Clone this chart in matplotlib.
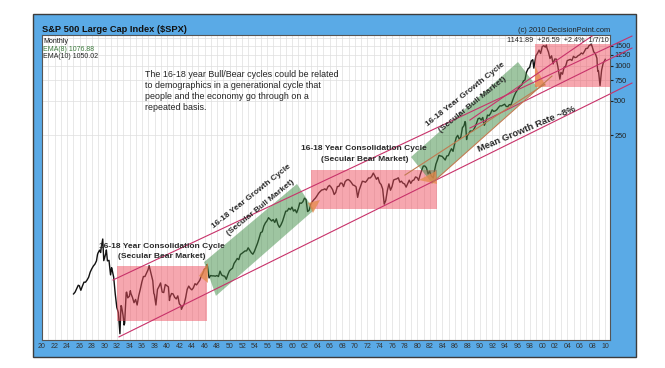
import matplotlib.pyplot as plt
import matplotlib.patches as mpatches
import numpy as np

plt.rcParams['font.family'] = ['Liberation Sans', 'DejaVu Sans']

months = [
    "1925-01", "1925-04", "1925-07", "1925-10", "1925-12",
    "1926-03", "1926-06", "1926-09", "1926-12",
    "1927-03", "1927-06", "1927-09", "1927-12",
    "1928-03", "1928-06", "1928-09", "1928-11", "1928-12",
    "1929-03", "1929-05", "1929-06", "1929-08", "1929-09", "1929-11", "1929-12",
    "1930-03", "1930-04", "1930-06", "1930-09", "1930-12",
    "1931-02", "1931-03", "1931-06", "1931-09", "1931-12",
    "1932-03", "1932-05", "1932-06", "1932-08", "1932-09", "1932-12",
    "1933-02", "1933-03", "1933-06", "1933-07", "1933-09", "1933-12",
    "1934-02", "1934-03", "1934-06", "1934-09", "1934-12",
    "1935-03", "1935-06", "1935-09", "1935-12",
    "1936-03", "1936-06", "1936-09", "1936-12",
    "1937-02", "1937-06", "1937-09", "1937-11", "1937-12",
    "1938-03", "1938-06", "1938-09", "1938-12",
    "1939-03", "1939-06", "1939-09", "1939-12",
    "1940-03", "1940-05", "1940-06", "1940-09", "1940-12",
    "1941-03", "1941-06", "1941-09", "1941-12",
    "1942-03", "1942-04", "1942-06", "1942-09", "1942-12",
    "1943-03", "1943-06", "1943-09", "1943-12",
    "1944-03", "1944-06", "1944-09", "1944-12",
    "1945-03", "1945-06", "1945-09", "1945-12",
    "1946-03", "1946-05", "1946-06", "1946-09", "1946-12",
    "1947-03", "1947-06", "1947-09", "1947-12",
    "1948-03", "1948-06", "1948-09", "1948-12",
    "1949-03", "1949-06", "1949-09", "1949-12",
    "1950-03", "1950-06", "1950-09", "1950-12",
    "1951-03", "1951-06", "1951-09", "1951-12",
    "1952-03", "1952-06", "1952-09", "1952-12",
    "1953-03", "1953-06", "1953-09", "1953-12",
    "1954-03", "1954-06", "1954-09", "1954-12",
    "1955-03", "1955-06", "1955-09", "1955-12",
    "1956-03", "1956-06", "1956-09", "1956-12",
    "1957-03", "1957-06", "1957-09", "1957-12",
    "1958-03", "1958-06", "1958-09", "1958-12",
    "1959-03", "1959-06", "1959-09", "1959-12",
    "1960-03", "1960-06", "1960-09", "1960-12",
    "1961-03", "1961-06", "1961-09", "1961-12",
    "1962-03", "1962-06", "1962-09", "1962-12",
    "1963-03", "1963-06", "1963-09", "1963-12",
    "1964-03", "1964-06", "1964-09", "1964-12",
    "1965-03", "1965-06", "1965-09", "1965-12",
    "1966-03", "1966-06", "1966-09", "1966-12",
    "1967-03", "1967-06", "1967-09", "1967-12",
    "1968-03", "1968-06", "1968-09", "1968-12",
    "1969-03", "1969-06", "1969-09", "1969-12",
    "1970-03", "1970-06", "1970-09", "1970-12",
    "1971-03", "1971-06", "1971-09", "1971-12",
    "1972-03", "1972-06", "1972-09", "1972-12",
    "1973-03", "1973-06", "1973-09", "1973-12",
    "1974-03", "1974-06", "1974-09", "1974-12",
    "1975-03", "1975-06", "1975-09", "1975-12",
    "1976-03", "1976-06", "1976-09", "1976-12",
    "1977-03", "1977-06", "1977-09", "1977-12",
    "1978-03", "1978-06", "1978-09", "1978-12",
    "1979-03", "1979-06", "1979-09", "1979-12",
    "1980-03", "1980-06", "1980-09", "1980-12",
    "1981-03", "1981-06", "1981-09", "1981-12",
    "1982-03", "1982-07", "1982-09", "1982-12",
    "1983-03", "1983-06", "1983-09", "1983-12",
    "1984-03", "1984-06", "1984-09", "1984-12",
    "1985-03", "1985-06", "1985-09", "1985-12",
    "1986-03", "1986-06", "1986-09", "1986-12",
    "1987-03", "1987-06", "1987-08", "1987-09", "1987-11", "1987-12",
    "1988-03", "1988-06", "1988-09", "1988-12",
    "1989-03", "1989-06", "1989-09", "1989-12",
    "1990-03", "1990-06", "1990-09", "1990-12",
    "1991-03", "1991-06", "1991-09", "1991-12",
    "1992-03", "1992-06", "1992-09", "1992-12",
    "1993-03", "1993-06", "1993-09", "1993-12",
    "1994-03", "1994-06", "1994-09", "1994-12",
    "1995-03", "1995-06", "1995-09", "1995-12",
    "1996-03", "1996-06", "1996-09", "1996-12",
    "1997-03", "1997-06", "1997-09", "1997-12",
    "1998-03", "1998-06", "1998-08", "1998-09", "1998-12",
    "1999-03", "1999-06", "1999-09", "1999-12",
    "2000-03", "2000-06", "2000-08", "2000-09", "2000-12",
    "2001-03", "2001-06", "2001-09", "2001-12",
    "2002-03", "2002-06", "2002-09", "2002-10", "2002-12",
    "2003-03", "2003-06", "2003-09", "2003-12",
    "2004-03", "2004-06", "2004-09", "2004-12",
    "2005-03", "2005-06", "2005-09", "2005-12",
    "2006-03", "2006-06", "2006-09", "2006-12",
    "2007-03", "2007-06", "2007-09", "2007-10", "2007-12",
    "2008-03", "2008-06", "2008-09", "2008-10", "2008-11", "2008-12",
    "2009-02", "2009-03", "2009-06", "2009-09", "2009-12",
    "2010-01",
]
closes = [
    10.6, 11.0, 11.8, 12.6, 12.5,
    11.4, 12.4, 13.4, 13.4,
    14.0, 14.8, 16.4, 17.5,
    18.5, 19.2, 20.5, 23.3, 24.0,
    25.4, 24.2, 26.5, 30.0, 31.7, 20.6, 21.4,
    23.9, 25.5, 20.5, 20.7, 15.5,
    17.9, 17.2, 14.8, 10.6, 8.1,
    7.3, 5.6, 4.8, 8.4, 8.3, 6.9,
    5.7, 5.9, 10.9, 11.0, 9.8, 10.1,
    11.3, 10.7, 9.9, 8.9, 9.5,
    8.5, 10.2, 11.6, 13.4,
    15.0, 15.0, 16.1, 17.2,
    18.6, 15.6, 13.8, 10.7, 10.5,
    8.5, 11.6, 12.3, 13.2,
    11.0, 10.9, 12.8, 12.5,
    12.2, 9.3, 9.9, 10.7, 10.6,
    9.9, 9.6, 10.2, 8.7,
    8.4, 7.8, 8.2, 8.6, 9.8,
    11.6, 12.4, 11.8, 11.5,
    12.0, 13.0, 12.7, 13.3,
    13.9, 15.1, 16.0, 17.4,
    17.7, 19.0, 18.4, 14.6, 15.3,
    15.2, 15.2, 15.1, 15.3,
    15.0, 16.7, 15.5, 15.2,
    15.1, 14.2, 15.6, 16.8,
    17.3, 17.7, 19.5, 20.4,
    21.5, 21.0, 23.3, 23.8,
    24.4, 25.0, 25.0, 26.6,
    25.3, 24.1, 23.4, 24.8,
    26.9, 29.2, 32.3, 36.0,
    36.6, 41.0, 43.7, 45.5,
    48.5, 46.9, 45.4, 46.7,
    44.1, 47.4, 42.4, 40.0,
    42.1, 45.2, 50.1, 55.2,
    55.4, 58.5, 56.9, 59.9,
    55.3, 56.9, 53.5, 58.1,
    65.1, 64.6, 66.7, 71.6,
    69.6, 54.8, 56.3, 63.1,
    66.6, 69.4, 71.7, 75.0,
    78.9, 81.7, 84.2, 84.8,
    86.2, 84.1, 89.9, 92.4,
    89.2, 84.7, 77.0, 80.3,
    90.2, 90.6, 96.7, 96.5,
    90.2, 99.6, 102.7, 103.9,
    101.5, 97.7, 93.1, 92.1,
    89.6, 72.7, 84.2, 92.2,
    100.3, 99.7, 98.3, 102.1,
    107.2, 107.1, 110.6, 118.1,
    111.5, 104.3, 108.4, 97.6,
    94.0, 86.0, 63.5, 68.6,
    83.4, 95.2, 83.9, 90.2,
    102.8, 104.3, 105.2, 107.5,
    98.4, 100.5, 96.5, 95.1,
    89.2, 95.5, 102.5, 96.1,
    101.6, 102.9, 109.3, 107.9,
    102.1, 114.2, 125.5, 135.8,
    136.0, 131.2, 116.2, 122.6,
    112.0, 107.1, 120.4, 140.6,
    153.0, 168.1, 166.1, 164.9,
    159.2, 153.2, 166.1, 167.2,
    180.7, 191.9, 182.1, 211.3,
    238.9, 250.8, 231.3, 242.2,
    291.7, 304.0, 329.8, 321.8, 230.3, 247.1,
    258.9, 273.5, 271.9, 277.7,
    294.9, 318.0, 349.2, 353.4,
    339.9, 358.0, 306.1, 330.2,
    375.2, 371.2, 387.9, 417.1,
    403.7, 408.1, 417.8, 435.7,
    451.7, 450.5, 458.9, 466.5,
    445.8, 444.3, 462.7, 459.3,
    500.7, 544.8, 584.4, 615.9,
    645.5, 670.6, 687.3, 740.7,
    757.1, 885.1, 947.3, 970.4,
    1101.8, 1133.8, 957.3, 1017.0, 1229.2,
    1286.4, 1372.7, 1282.7, 1469.3,
    1498.6, 1454.6, 1517.7, 1436.5, 1320.3,
    1160.3, 1224.4, 1040.9, 1148.1,
    1147.4, 989.8, 815.3, 768.0, 879.8,
    848.2, 974.5, 996.0, 1111.9,
    1126.2, 1140.8, 1114.6, 1211.9,
    1180.6, 1191.3, 1228.8, 1248.3,
    1294.8, 1270.2, 1335.9, 1418.3,
    1420.9, 1503.4, 1526.8, 1549.4, 1468.4,
    1322.7, 1280.0, 1166.4, 968.8, 896.2, 903.3,
    735.1, 676.0, 919.3, 1057.1, 1115.1,
    1141.7,
]
price_ticks = [250, 500, 750, 1000, 1250, 1500]

t = np.array([int(m[:4]) + (int(m[5:]) - 0.5) / 12 for m in months])

W, H = 665, 368
fig = plt.figure(figsize=(W / 100, H / 100), dpi=100)


def ftext(x, y, s, **kw):
    return fig.text(x / W, 1 - y / H, s, **kw)


frame = mpatches.Rectangle((33 / W, 1 - 357 / H), 603 / W, 343 / H, transform=fig.transFigure,
                           facecolor='#5aaae6', edgecolor='#3c3c3c', lw=1.0, zorder=-1)
fig.add_artist(frame)

ax = fig.add_axes([42 / W, 1 - 340 / H, 568 / W, 305 / H])
ax.set_facecolor('white')
ax.set_yscale('log')
ax.set_xlim(1920, 2010.8)
ax.set_ylim(4.23, 1854)

# grid
ax.set_xticks(np.arange(1920, 2011, 2))
ax.set_xticks(np.arange(1920, 2011, 1), minor=True)
ax.set_xticklabels(['%02d' % (y % 100) for y in range(1920, 2011, 2)])
ax.grid(which='both', axis='x', color='#dedede', lw=0.5)
ax.set_yticks(price_ticks)
ax.set_yticklabels([str(v) for v in price_ticks])
ax.yaxis.set_minor_locator(plt.NullLocator())
ax.grid(which='major', axis='y', color='#dedede', lw=0.5)
ax.axhline(1750, color='#dedede', lw=0.5)
ax.set_axisbelow(True)
ax.yaxis.tick_right()
ax.tick_params(axis='y', which='both', length=2, pad=1, labelsize=5.3, colors='#222222')
ax.tick_params(axis='x', which='both', length=0, pad=2.5, labelsize=5, labelcolor='#333333')
for s in ax.spines.values():
    s.set_color('#555555')
    s.set_linewidth(0.8)

ax.plot(t, closes, color='#101010', lw=1.0, zorder=2)

# shaded cycles (drawn over the price line, like the marker overlay in the original)
for x0, x1, y0, y1 in [(1932.0, 1946.4, 6.2, 18.5), (1963.0, 1983.1, 57.7, 125.5),
                       (1998.8, 2010.8, 656, 1560)]:
    ax.add_patch(mpatches.Rectangle((x0, y0), x1 - x0, y1 - y0, facecolor='#ee5060',
                                    edgecolor='none', alpha=0.5, zorder=3))
for poly in [[(1945.9, 20.0), (1960.76, 95), (1963.48, 56.5), (1947.81, 10.2)],
             [(1978.98, 162.6), (1996.09, 1081), (1999.28, 644), (1982.34, 96.8)]]:
    ax.add_patch(mpatches.Polygon(poly, closed=True, facecolor='#3f8c45', edgecolor='none',
                                  alpha=0.5, zorder=3))
for tri in [[(1945.1, 15.2), (1946.53, 19.7), (1946.53, 13.2)],
            [(1962.52, 65.0), (1964.44, 69.0), (1963.32, 53.2)],
            [(1980.26, 102.8), (1982.98, 123), (1983.14, 95.1)],
            [(1998.8, 997), (2000.56, 670), (1998.8, 656)]]:
    ax.add_patch(mpatches.Polygon(tri, closed=True, facecolor='#e58a4a', edgecolor='none',
                                  alpha=0.75, zorder=3))

# trend lines
red = '#c8326a'
brown = '#c07a50'
for (xa, ya), (xb, yb), c in [((1932.31, 4.5), (2014.31, 711), red),
                              ((1931.35, 14.0), (2014.31, 1815), red),
                              ((1988.41, 340), (2007.92, 1815), red),
                              ((1988.41, 290), (2014.31, 1429), red),
                              ((1982.34, 96.8), (2001.52, 818), brown),
                              ((1978.02, 113.5), (2000.4, 696), brown)]:
    ax.plot([xa, xb], [ya, yb], color=c, lw=0.8, zorder=4, clip_on=False)

# header texts
ftext(42, 34, 'S&P 500 Large Cap Index (\\$SPX)', fontsize=6.7, fontweight='bold',
      ha='left', va='bottom', color='#111111')
ftext(610, 33.5, '(c) 2010 DecisionPoint.com', fontsize=5.4, ha='right',
      va='bottom', color='#222222')
ftext(43, 41.7, 'Monthly', fontsize=5, va='center', color='#111111')
ftext(43, 49.3, 'EMA(8) 1076.88', fontsize=5, va='center', color='#3c7a3c')
ftext(43, 56.7, 'EMA(10) 1050.02', fontsize=5, va='center', color='#222222')
ftext(609, 40.5, '1141.89  +26.59  +2.4%  1/7/10', fontsize=5.2, ha='right',
      va='center', color='#222222')

ftext(145, 91, 'The 16-18 year Bull/Bear cycles could be related\n'
      'to demographics in a generational cycle that\n'
      'people and the economy go through on a\n'
      'repeated basis.', fontsize=6.4, ha='left', va='center', linespacing=1.25, color='#222222')

lab = dict(fontsize=6, fontweight='bold', color='#2a2a2a', ha='center', va='center',
           rotation_mode='anchor')
ftext(162, 246, '16-18 Year Consolidation Cycle', **lab)
ftext(162, 257, '(Secular Bear Market)', **lab)
ftext(364, 148, '16-18 Year Consolidation Cycle', **lab)
ftext(365, 160, '(Secular Bear Market)', **lab)
ftext(251, 197, '16-18 Year Growth Cycle', rotation=38.5, **lab)
ftext(261, 208, '(Secular Bull Market)', rotation=39, **lab)
ftext(465, 95, '16-18 Year Growth Cycle', rotation=38.5, **lab)
ftext(473, 105, '(Secular Bull Market)', rotation=39, **lab)
ftext(527, 129, 'Mean Growth Rate ~8%', rotation=23, **dict(lab, fontsize=6.8))

fig.savefig('out.png', dpi=100)
